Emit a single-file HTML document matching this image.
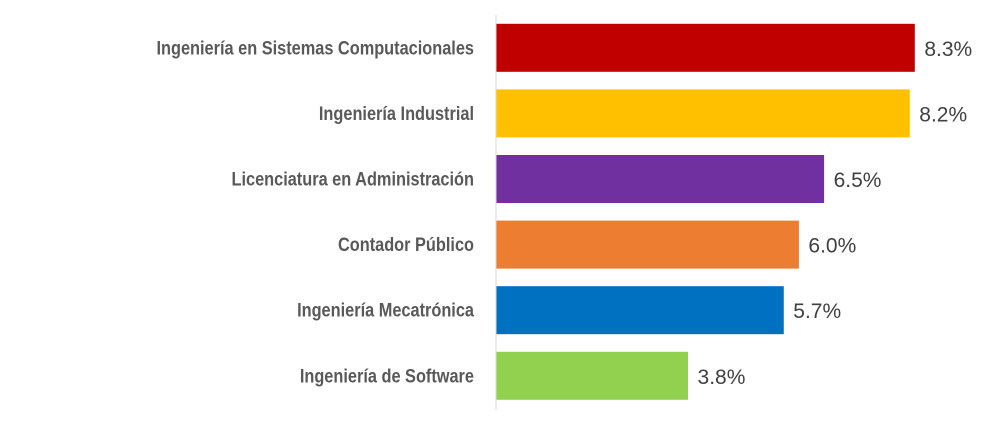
<!DOCTYPE html>
<html><head><meta charset="utf-8"><style>
html,body{margin:0;padding:0;background:#fff}
svg{display:block}
</style></head><body>
<svg id="chart" width="1000" height="430" viewBox="0 0 1000 430" xmlns="http://www.w3.org/2000/svg"></svg>
<script>
const categories = ["Ingeniería en Sistemas Computacionales","Ingeniería Industrial","Licenciatura en Administración","Contador Público","Ingeniería Mecatrónica","Ingeniería de Software"];
const values = [8.3, 8.2, 6.5, 6.0, 5.7, 3.8];
const valueLabels = ["8.3%","8.2%","6.5%","6.0%","5.7%","3.8%"];
const colors = ["#C00000","#FFC000","#7030A0","#ED7D31","#0070C0","#92D050"];

const NS = "http://www.w3.org/2000/svg";
const svg = document.getElementById("chart");
const x0 = 496, pxPerUnit = 50.4;
const xScale = v => x0 + v * pxPerUnit;
const rowTop = 15, rowH = 65.6, barH = 48;
const yScale = i => rowTop + i * rowH + (rowH - barH) / 2;

const axis = document.createElementNS(NS, "line");


axis.setAttribute("x1", x0); axis.setAttribute("x2", x0);
axis.setAttribute("y1", 15); axis.setAttribute("y2", 410);
axis.setAttribute("stroke", "#d9d9d9"); axis.setAttribute("stroke-width", "1");
svg.appendChild(axis);

categories.forEach((c, i) => {
  const y = yScale(i);
  const r = document.createElementNS(NS, "rect");
  
  
  r.setAttribute("x", x0 + 0.5); r.setAttribute("y", y);
  r.setAttribute("width", xScale(values[i]) - x0); r.setAttribute("height", barH);
  r.setAttribute("fill", colors[i]);
  svg.appendChild(r);

  const g = document.createElementNS(NS, "g");
  g.setAttribute("transform", "translate(474," + (y + barH/2 + 6.5) + ") scale(0.86,1)");
  const t = document.createElementNS(NS, "text");
  
  
  t.setAttribute("text-anchor", "end");
  t.setAttribute("font-family", "Liberation Sans, sans-serif");
  t.setAttribute("font-weight", "bold");
  t.setAttribute("font-size", "19");
  t.setAttribute("fill", "#595959");
  t.textContent = c;
  g.appendChild(t);
  svg.appendChild(g);

  const v = document.createElementNS(NS, "text");
  
  
  v.setAttribute("x", xScale(values[i]) + 10);
  v.setAttribute("y", y + barH/2 + 8);
  v.setAttribute("font-family", "Liberation Sans, sans-serif");
  v.setAttribute("font-size", "21");
  v.setAttribute("fill", "#404040");
  v.textContent = valueLabels[i];
  svg.appendChild(v);
});
</script>
</body></html>
